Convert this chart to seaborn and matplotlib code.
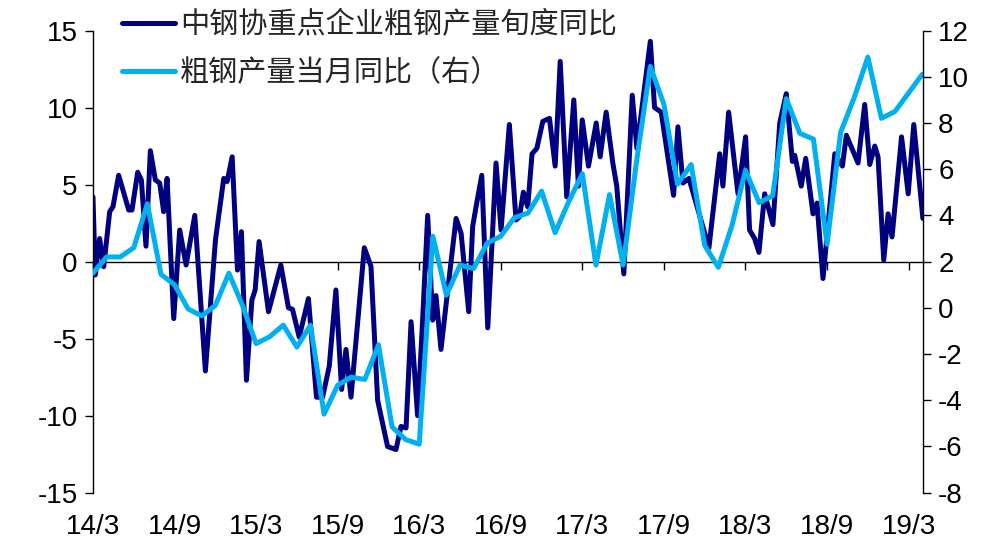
import numpy as np
import pandas as pd
import matplotlib
matplotlib.use("Agg")
import matplotlib.pyplot as plt
import seaborn as sns

# 中钢协重点企业粗钢产量旬度同比 (%), position in months counted from 2014-03
cisa_month = [
    0.0, 0.17, 0.49, 0.79, 1.23, 1.47, 1.89, 2.63, 2.87, 3.29, 3.56, 3.9, 4.22,
    4.59, 4.91, 5.2, 5.45, 5.94, 6.38, 6.85, 7.49, 8.27, 9.01, 9.62, 9.87, 10.24,
    10.63, 10.92, 11.29, 11.69, 11.93, 12.22, 12.91, 13.82, 14.38, 14.68, 15.17,
    15.85, 16.44, 16.89, 17.38, 17.87, 18.29, 18.61, 18.98, 19.96, 20.45, 20.94,
    21.67, 22.29, 22.66, 23.03, 23.4, 23.88, 24.25, 24.62, 24.99, 25.23, 25.6,
    25.96, 26.71, 27.08, 27.64, 27.93, 28.18, 28.6, 29.04, 29.65, 30.02, 30.63,
    31.12, 31.37, 31.66, 31.98, 32.3, 32.65, 33.09, 33.58, 34.0, 34.37, 34.85,
    35.37, 35.71, 35.99, 36.45, 37.02, 37.31, 37.75, 38.24, 38.53, 39.05, 39.67,
    40.01, 41.0, 41.31, 41.8, 42.71, 43.03, 43.4, 43.84, 45.31, 46.1, 46.34,
    46.76, 47.45, 48.01, 48.3, 48.67, 48.99, 49.41, 50.02, 50.52, 51.0, 51.45,
    51.62, 52.1, 52.43, 52.97, 53.26, 53.7, 54.57, 55.13, 55.42, 56.28, 56.77,
    57.14, 57.51, 57.75, 58.17, 58.49, 58.78, 59.48, 59.97, 60.38, 61.05,
]
cisa_yoy = [
    4.2, -0.87, 1.5, -0.33, 3.24, 3.56, 5.6, 3.35, 3.35, 5.8, 5.3, 1.0, 7.2,
    5.3, 5.1, 3.24, 5.4, -3.7, 2.05, -0.22, 3.0, -7.1, 1.4, 5.4, 5.2, 6.8,
    -0.55, 1.94, -7.7, -2.5, -1.84, 1.3, -3.25, -0.22, -3.0, -3.1, -4.9,
    -2.4, -8.8, -8.8, -6.8, -1.84, -8.3, -5.7, -8.8, 0.9, -0.3, -9.0,
    -12.0, -12.2, -10.7, -10.8, -3.9, -10.0, -3.8, 3.0, -3.8, -2.2, -5.7,
    -2.9, 2.8, 1.84, -3.25, 2.27, 3.56, 5.6, -4.3, 6.4, 2.05, 8.9,
    2.7, 2.9, 4.5, 3.56, 7.0, 7.35, 9.1, 9.3, 6.2, 13.0, 4.2,
    10.5, 4.9, 9.2, 6.2, 9.0, 6.8, 9.7, 6.4, 4.9, -0.8, 10.8,
    7.35, 14.3, 10.0, 9.7, 4.3, 8.75, 5.1, 5.4, 0.9, 7.0, 4.9,
    9.7, 4.4, 8.1, 2.05, 1.5, 0.6, 4.4, 2.4, 9.0, 10.9, 6.5,
    6.9, 4.9, 6.7, 3.1, 3.8, -1.1, 7.0, 6.2, 8.2, 6.4, 10.2,
    6.3, 7.5, 6.8, 0.1, 3.1, 1.6, 8.1, 4.4, 8.9, 2.8,
]

# 粗钢产量当月同比 (%), one value per month starting 2014-03
crude_yoy = [
    1.5, 2.2, 2.2, 2.6, 4.5, 1.45, 1.0, -0.05, -0.35, 0.1,
    1.5, 0.1, -1.55, -1.25, -0.75, -1.7, -0.75, -4.6, -3.35, -3.0,
    -3.1, -1.6, -5.15, -5.7, -5.9, 3.1, 0.55, 1.85, 1.7, 2.8,
    3.1, 3.9, 4.1, 5.05, 3.25, 4.6, 5.8, 1.85, 4.9, 1.85,
    6.4, 10.45, 8.8, 5.35, 6.2, 2.7, 1.75, 3.55, 5.95, 4.55,
    4.85, 9.05, 7.55, 7.3, 2.75, 7.6, 9.1, 10.85, 8.2, 8.5,
    9.3, 10.1,
]
crude_month = np.arange(len(crude_yoy))

tick_months = [0, 6, 12, 18, 24, 30, 36, 42, 48, 54, 60]
tick_labels = ["14/3", "14/9", "15/3", "15/9", "16/3", "16/9",
               "17/3", "17/9", "18/3", "18/9", "19/3"]

label_cisa = "中钢协重点企业粗钢产量旬度同比"
label_crude = "粗钢产量当月同比（右）"

NAVY = "#000080"
SKY = "#00B0F0"

sns.set_theme(style="white")
plt.rcParams["font.family"] = ["Liberation Sans", "Noto Sans CJK SC", "DejaVu Sans"]
plt.rcParams["axes.unicode_minus"] = False

cisa_df = pd.DataFrame({"month": cisa_month, "yoy": cisa_yoy})
crude_df = pd.DataFrame({"month": crude_month, "yoy": crude_yoy})

fig = plt.figure(figsize=(9.88, 5.44), dpi=100)
ax = fig.add_axes([0.0941, 0.0943, 0.840, 0.8496])
ax2 = ax.twinx()

sns.lineplot(data=cisa_df, x="month", y="yoy", ax=ax, color=NAVY,
             linewidth=3.6, legend=False, estimator=None)
sns.lineplot(data=crude_df, x="month", y="yoy", ax=ax2, color=SKY,
             linewidth=3.6, legend=False, estimator=None)

ax.set_xlim(0, 61.05)
ax.set_ylim(-15, 15)
ax2.set_ylim(-8, 12)
ax.set_yticks(range(-15, 16, 5))
ax2.set_yticks(range(-8, 13, 2))
ax.set_xlabel("")
ax.set_ylabel("")
ax2.set_ylabel("")

for name in ["top", "right", "bottom"]:
    ax.spines[name].set_visible(False)
for name in ["top", "left", "bottom"]:
    ax2.spines[name].set_visible(False)
ax.spines["left"].set_color("black")
ax.spines["left"].set_linewidth(1.0)
ax2.spines["right"].set_color("black")
ax2.spines["right"].set_linewidth(1.0)

ax.tick_params(axis="y", left=True, direction="out", length=6, width=1,
               color="black", labelsize=20, labelcolor="black", pad=5)
ax2.tick_params(axis="y", right=True, direction="out", length=6, width=1,
                color="black", labelsize=20, labelcolor="black", pad=5)

# category labels sit under the plot area
ax.set_xticks(tick_months)
ax.set_xticklabels(tick_labels)
ax.tick_params(axis="x", bottom=True, length=0, labelsize=20,
               labelcolor="black", pad=15)

# horizontal zero line carrying the tick marks
zero_axis = ax.secondary_xaxis(0.5)
zero_axis.set_xticks(tick_months)
zero_axis.set_xticklabels([])
zero_axis.tick_params(axis="x", direction="in", length=6, width=1, color="black")
for sp in zero_axis.spines.values():
    sp.set_color("black")
    sp.set_linewidth(1.0)

h1 = ax.get_lines()[0]
h2 = ax2.get_lines()[0]
fig.legend([h1, h2], [label_cisa, label_crude], loc="upper left",
           bbox_to_anchor=(0.1235, 0.982), frameon=False,
           prop={"family": ["Noto Sans CJK SC", "DejaVu Sans"], "size": 21},
           handlelength=1.82, handletextpad=0.17, labelspacing=0.62,
           borderpad=0, borderaxespad=0)

fig.savefig("out.png", dpi=100, facecolor="white")
